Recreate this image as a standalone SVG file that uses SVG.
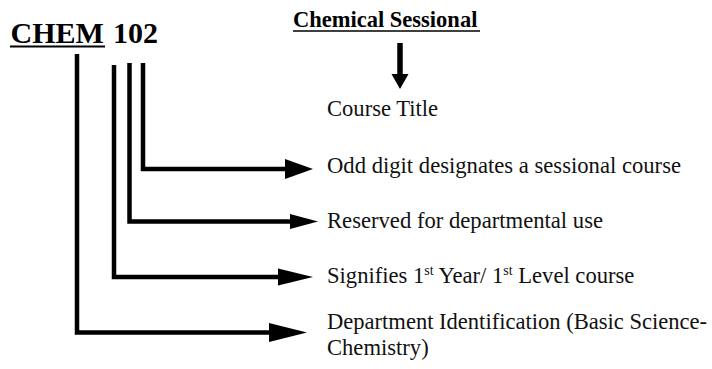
<svg xmlns="http://www.w3.org/2000/svg" width="712" height="369" viewBox="0 0 712 369">
  <style>
    text { font-family: 'Liberation Serif', serif; }
    .code { font-weight: bold; font-size: 30px; fill: #000; }
    .head { font-weight: bold; font-size: 22.5px; fill: #000; }
    .lbl { font-size: 22.6px; fill: #111; }
    .sup { font-size: 14px; }
    .wire { fill: none; stroke: #000; stroke-width: 4.5; stroke-linejoin: miter; stroke-linecap: butt; }
    .uline { stroke: #000; }
    .head-tip { fill: #000; }
  </style>

  <!-- course code -->
  <g id="code" font-family="Liberation Serif, serif">
    <text class="code" x="10.5" y="42.5">CHEM</text>
    <line class="uline" x1="10" y1="46.5" x2="105" y2="46.5" stroke-width="2.2"/>
    <text class="code" x="113" y="42.5">102</text>
  </g>

  <!-- course title heading -->
  <g id="title" font-family="Liberation Serif, serif">
    <text class="head" x="293" y="27">Chemical Sessional</text>
    <line class="uline" x1="293" y1="31" x2="480" y2="31" stroke-width="1.6"/>
  </g>

  <g id="course-title" font-family="Liberation Serif, serif">
    <text class="lbl" x="327" y="116">Course Title</text>
  </g>

  <g id="sessional" font-family="Liberation Serif, serif">
    <text class="lbl" x="327" y="173" textLength="354" lengthAdjust="spacingAndGlyphs">Odd digit designates a sessional course</text>
  </g>

  <g id="reserved" font-family="Liberation Serif, serif">
    <text class="lbl" x="327" y="228" textLength="276" lengthAdjust="spacingAndGlyphs">Reserved for departmental use</text>
  </g>

  <g id="level" font-family="Liberation Serif, serif">
    <text class="lbl" x="327" y="283">Signifies 1<tspan class="sup" dy="-8">st</tspan><tspan dy="8"> Year/ 1</tspan><tspan class="sup" dy="-8">st</tspan><tspan dy="8"> Level course</tspan></text>
  </g>

  <g id="department" font-family="Liberation Serif, serif">
    <text class="lbl" x="327" y="329" textLength="380" lengthAdjust="spacingAndGlyphs">Department Identification (Basic Science-</text>
    <text class="lbl" x="327" y="355">Chemistry)</text>
  </g>

  <!-- connectors -->
  <g id="connectors">
    <!-- heading to course title -->
    <line x1="400" y1="43" x2="400" y2="75" stroke="#000" stroke-width="5.5"/>
    <polygon class="head-tip" points="391.5,74 408.5,74 400,89"/>

    <!-- digit 2 : sessional -->
    <polyline class="wire" points="143,63 143,169 287,169"/>
    <polygon class="head-tip" points="285,159 313,169 285,179"/>

    <!-- digit 0 : reserved -->
    <polyline class="wire" points="129.5,63 129.5,221.5 292,221.5"/>
    <polygon class="head-tip" points="290,214 318,221.5 290,229"/>

    <!-- digit 1 : level -->
    <polyline class="wire" points="114,65 114,277 280,277"/>
    <polygon class="head-tip" points="278,268.5 313,277 278,285.5"/>

    <!-- letters : department -->
    <polyline class="wire" points="77,54 77,332.5 271,332.5"/>
    <polygon class="head-tip" points="269,323 307,332.5 269,342"/>
  </g>
</svg>
